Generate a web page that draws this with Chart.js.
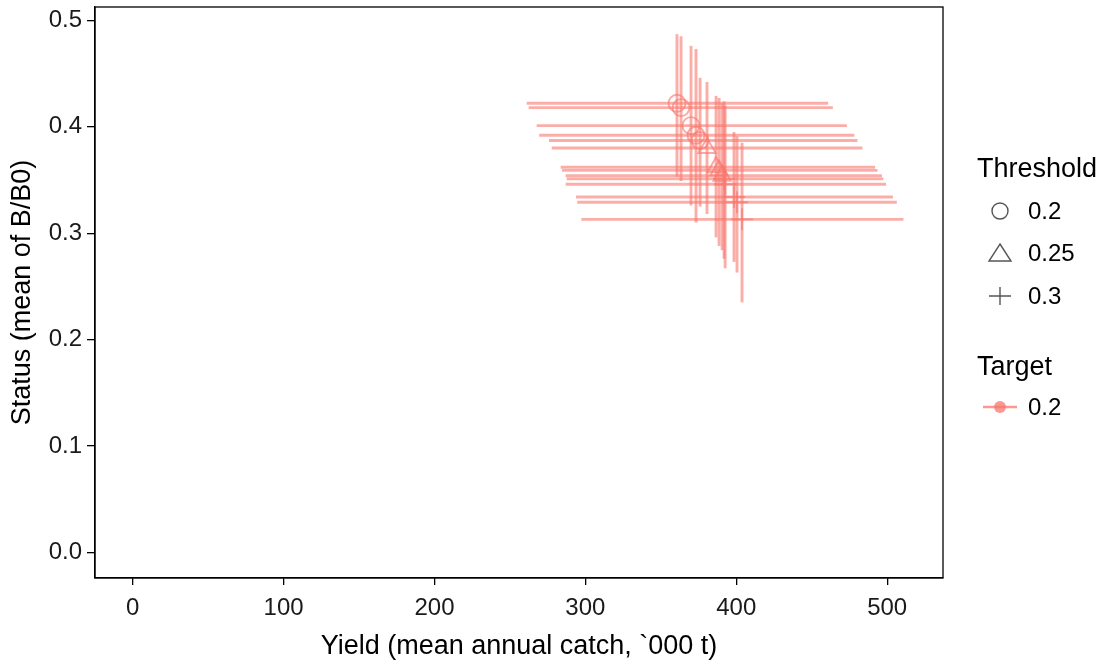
<!DOCTYPE html>
<html>
<head>
<meta charset="utf-8">
<script src="https://cdn.jsdelivr.net/npm/chart.js@4.4.1/dist/chart.umd.min.js"></script>
<style>
  html, body { margin: 0; padding: 0; background: #fff; }
  #wrap { position: relative; width: 1107px; height: 664px; font-family: "Liberation Sans", Arial, sans-serif; }
  #c { position: absolute; left: 0; top: 0; }
  .lg { position: absolute; color: #000; font-size: 24px; line-height: 28px; white-space: nowrap; }
  .lt { font-size: 27px; line-height: 30px; }
  .lg svg { position: absolute; }
</style>
</head>
<body>
<div id="wrap">
  <canvas id="c" width="1107" height="664"></canvas>
  <div class="lg lt" style="left:977px;top:153px;">Threshold</div>
  <div class="lg" style="left:967px;top:197px;width:140px;height:28px;">
    <svg width="30" height="28" style="left:18px;top:0"><circle cx="15" cy="14" r="8" fill="none" stroke="#555" stroke-width="1.4"/></svg>
    <span style="position:absolute;left:61px;top:0">0.2</span>
  </div>
  <div class="lg" style="left:967px;top:239px;width:140px;height:28px;">
    <svg width="30" height="28" style="left:18px;top:0"><polygon points="15,5 26,22 4,22" fill="none" stroke="#555" stroke-width="1.4"/></svg>
    <span style="position:absolute;left:61px;top:0">0.25</span>
  </div>
  <div class="lg" style="left:967px;top:282px;width:140px;height:28px;">
    <svg width="30" height="28" style="left:18px;top:0"><path d="M15 5 V23 M4 14 H26" stroke="#555" stroke-width="1.4"/></svg>
    <span style="position:absolute;left:61px;top:0">0.3</span>
  </div>
  <div class="lg lt" style="left:977px;top:351px;">Target</div>
  <div class="lg" style="left:967px;top:393px;width:140px;height:28px;">
    <svg width="56" height="28" style="left:0;top:0"><line x1="16" y1="14" x2="50" y2="14" stroke="#f8766d" stroke-opacity="0.75" stroke-width="2.6"/><circle cx="33" cy="14" r="6" fill="#f8766d" fill-opacity="0.75"/></svg>
    <span style="position:absolute;left:61px;top:0">0.2</span>
  </div>
</div>
<script>
// yield ('000 t) and status (B/B0) per run, with lower/upper quantiles
const yieldMean = [360.7, 363.4, 370.0, 373.3, 376.0, 380.6, 386.6, 388.6, 390.6, 391.9, 392.6, 398.5, 400.5, 403.8];
const yieldLow  = [261.1, 262.4, 267.7, 269.4, 275.9, 277.7, 283.6, 284.5, 286.9, 287.6, 286.9, 293.8, 294.6, 297.3];
const yieldHigh = [460.9, 464.0, 473.3, 478.3, 480.3, 483.6, 492.0, 493.6, 496.5, 497.5, 499.3, 503.8, 506.4, 510.8];
const statusMean = [0.422, 0.418, 0.401, 0.392, 0.387, 0.380, 0.362, 0.359, 0.354, 0.351, 0.346, 0.334, 0.329, 0.313];
const statusLow  = [0.353, 0.349, 0.326, 0.310, 0.325, 0.318, 0.296, 0.288, 0.284, 0.276, 0.267, 0.273, 0.263, 0.235];
const statusHigh = [0.487, 0.485, 0.476, 0.473, 0.446, 0.442, 0.429, 0.427, 0.422, 0.424, 0.420, 0.395, 0.391, 0.385];
const threshold  = [0.2, 0.2, 0.2, 0.2, 0.2, 0.25, 0.25, 0.25, 0.25, 0.3, 0.3, 0.3, 0.3, 0.3];

const thresholds = [0.2, 0.25, 0.3];
const shapes = ['circle', 'triangle', 'cross'];
const shapeSize = [8.5, 10, 11];
const xTicks = [0, 100, 200, 300, 400, 500];
const yTicks = [0, 0.1, 0.2, 0.3, 0.4, 0.5];

const salmon = 'rgba(248,118,109,0.62)';
const PANEL_TOP = 7;

const datasets = thresholds.map(function(t, k) {
    const pts = [];
    for (let i = 0; i < yieldMean.length; i++) {
        if (threshold[i] === t) pts.push({ x: yieldMean[i], y: statusMean[i] });
    }
    return {
        label: String(t),
        data: pts,
        pointStyle: shapes[k],
        pointRadius: shapeSize[k],
        pointBorderWidth: 1.9,
        pointBorderColor: salmon,
        pointBackgroundColor: 'rgba(0,0,0,0)',
        showLine: false
    };
});

// error bars + panel frame
const extras = {
    id: 'extras',
    afterLayout(chart) {
        // pin the panel top like the original (tick label overhang would push it down)
        const ys = chart.scales.y, a = chart.chartArea;
        ys.top = PANEL_TOP;
        ys.height = ys.bottom - ys.top;
        a.top = PANEL_TOP;
        a.height = a.bottom - a.top;
        ys.configure();
    },
    beforeDatasetsDraw(chart) {
        const ctx = chart.ctx, xs = chart.scales.x, ys = chart.scales.y;
        ctx.save();
        ctx.strokeStyle = 'rgba(248,118,109,0.6)';
        ctx.lineWidth = 2.9;
        for (let i = 0; i < yieldMean.length; i++) {
            const px = xs.getPixelForValue(yieldMean[i]);
            const py = ys.getPixelForValue(statusMean[i]);
            ctx.beginPath();
            ctx.moveTo(xs.getPixelForValue(yieldLow[i]), py);
            ctx.lineTo(xs.getPixelForValue(yieldHigh[i]), py);
            ctx.stroke();
            ctx.beginPath();
            ctx.moveTo(px, ys.getPixelForValue(statusLow[i]));
            ctx.lineTo(px, ys.getPixelForValue(statusHigh[i]));
            ctx.stroke();
        }
        ctx.restore();
    },
    afterDraw(chart) {
        const a = chart.chartArea, ctx = chart.ctx;
        ctx.save();
        ctx.strokeStyle = '#000';
        ctx.lineWidth = 1.3;
        ctx.strokeRect(a.left, a.top, a.right - a.left, a.bottom - a.top);
        ctx.restore();
    }
};

const tickFont = { family: 'Liberation Sans', size: 24 };
const titleFont = { family: 'Liberation Sans', size: 27 };

new Chart(document.getElementById('c'), {
    type: 'scatter',
    data: { datasets: datasets },
    options: {
        responsive: false,
        animation: false,
        layout: { padding: { top: 7, right: 164, left: 0, bottom: 0 } },
        plugins: { legend: { display: false }, tooltip: { enabled: false } },
        scales: {
            x: {
                type: 'linear',
                min: -25, max: 537,
                afterFit: function(s) { s.height = 86; s.paddingLeft = 0; s.paddingRight = 0; },
                afterBuildTicks: function(s) { s.ticks = xTicks.map(v => ({ value: v })); },
                grid: { drawOnChartArea: false, drawTicks: true, tickLength: 7, color: '#000', lineWidth: 1.3 },
                border: { display: true, color: '#000', width: 1.3 },
                ticks: { color: '#1a1a1a', font: tickFont, padding: 9, maxRotation: 0 },
                title: { display: true, text: 'Yield (mean annual catch, `000 t)', color: '#000',
                         font: titleFont, padding: { top: 0, bottom: 1 } }
            },
            y: {
                type: 'linear',
                min: -0.024, max: 0.5125,
                afterFit: function(s) { s.width = 95; s.paddingTop = 0; s.paddingBottom = 0; },
                afterBuildTicks: function(s) { s.ticks = yTicks.map(v => ({ value: v })); },
                grid: { drawOnChartArea: false, drawTicks: true, tickLength: 8, color: '#000', lineWidth: 1.3 },
                border: { display: true, color: '#000', width: 1.3 },
                ticks: { color: '#1a1a1a', font: tickFont, padding: 5,
                         callback: function(v) { return v.toFixed(1); } },
                title: { display: true, text: 'Status (mean of B/B0)', color: '#000',
                         font: titleFont, padding: { top: 6, bottom: 0 } }
            }
        }
    },
    plugins: [extras]
});
</script>
</body>
</html>
